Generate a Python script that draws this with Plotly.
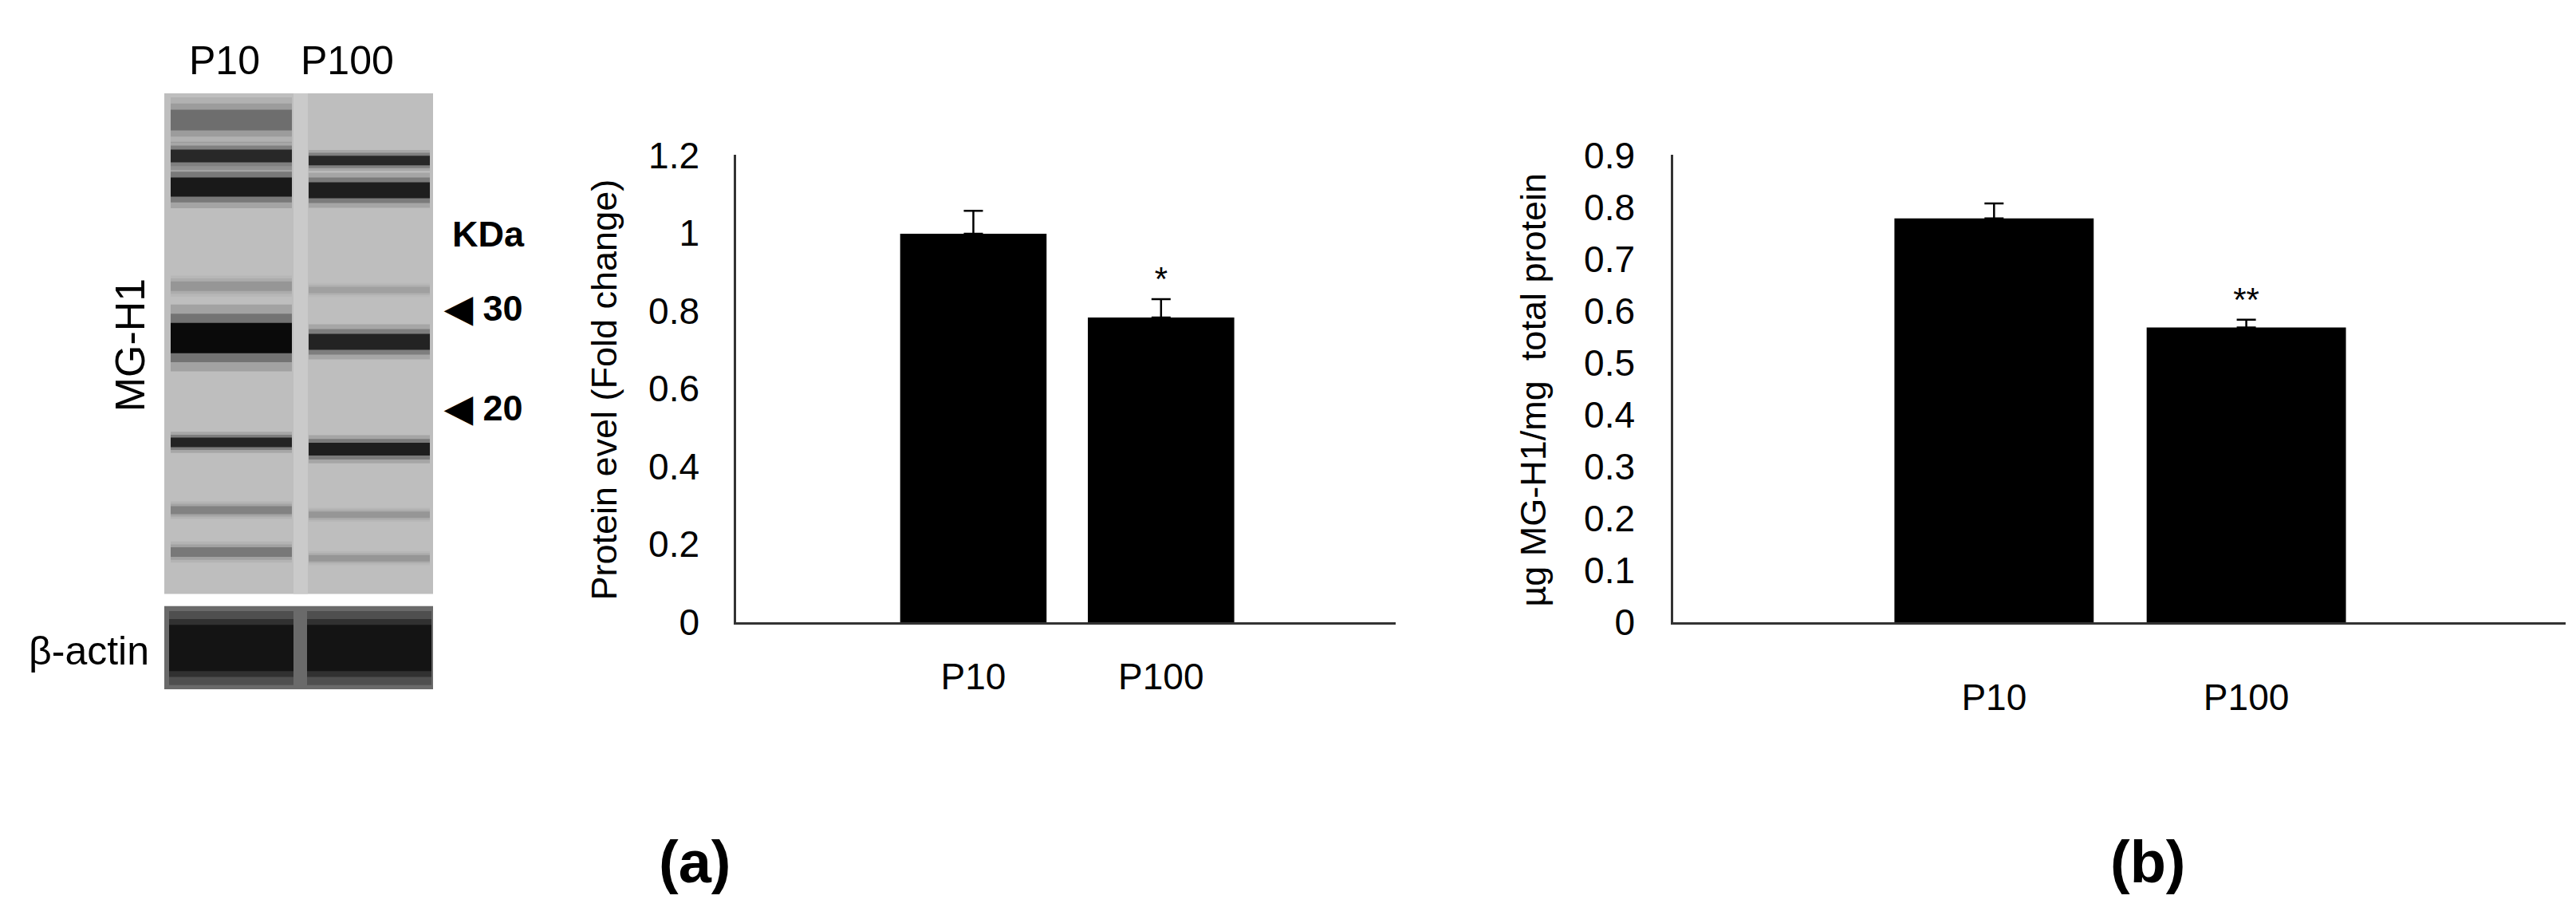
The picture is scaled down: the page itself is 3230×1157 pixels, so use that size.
import plotly.graph_objects as go

W, H = 3230, 1157

# bar chart data
cats = ['P10', 'P100']
fold_change = [0.998, 0.783]
fold_err = [0.059, 0.047]
mgh1_ug = [0.778, 0.568]
mgh1_err = [0.029, 0.015]
sig_a = ['', '*']
sig_b = ['', '**']

# western blot bands (pixel space): lane centre, y, thickness, grey level
band_lane = [282, 282, 282, 282, 282, 282, 282, 282, 455, 455, 455, 455, 455, 455, 455]
band_y = [122, 169, 210, 340, 408, 545, 634, 689, 175, 214, 345, 413, 554, 640, 697]
band_h = [26, 16, 24, 12, 38, 12, 10, 12, 12, 20, 8, 20, 16, 8, 8]
band_grey = [110, 40, 25, 150, 10, 35, 130, 120, 40, 30, 160, 35, 30, 150, 150]
actin_lane = [282, 455]
actin_y = [815, 815]

FONT = 'Liberation Sans'
fig = go.Figure()

# gel backgrounds
fig.add_shape(type='rect', xref='x3', yref='y3', x0=198, x1=535, y0=87, y1=744,
              fillcolor='#bebebe', line_width=0, layer='below')
fig.add_shape(type='rect', xref='x3', yref='y3', x0=360, x1=378, y0=87, y1=744,
              fillcolor='#cacaca', line_width=0, layer='below')
fig.add_shape(type='rect', xref='x3', yref='y3', x0=198, x1=535, y0=760, y1=869,
              fillcolor='#6a6a6a', line_width=0, layer='below')

for lx, by, bh, g in zip(band_lane, band_y, band_h, band_grey):
    for k, op in [(2.2, 0.15), (1.6, 0.3), (1.0, 1.0)]:
        fig.add_trace(go.Scatter(
            x=[lx - 76, lx + 76], y=[by, by], xaxis='x3', yaxis='y3', mode='lines',
            line=dict(color=f'rgb({g},{g},{g})', width=bh * k), opacity=op,
            showlegend=False, hoverinfo='skip'))
for lx, ay in zip(actin_lane, actin_y):
    for k, op in [(1.6, 0.3), (1.25, 0.5), (1.0, 1.0)]:
        fig.add_trace(go.Scatter(
            x=[lx - 78, lx + 78], y=[ay, ay], xaxis='x3', yaxis='y3', mode='lines',
            line=dict(color='rgb(20,20,20)', width=58 * k), opacity=op,
            showlegend=False, hoverinfo='skip'))


def bar_panel(vals, errs, sig, width, xa, ya):
    fig.add_trace(go.Bar(
        x=cats, y=vals, width=width, marker=dict(color='black', line_width=0),
        error_y=dict(type='data', array=errs, arrayminus=[0, 0], symmetric=False,
                     color='black', thickness=2.5, width=12),
        showlegend=False, xaxis=xa, yaxis=ya))
    # significance marks sit on top of the error bars
    fig.add_trace(go.Scatter(
        x=cats, y=[v + e for v, e in zip(vals, errs)], text=sig, mode='text',
        textposition='top center', textfont=dict(family=FONT, size=42, color='black'),
        cliponaxis=False, showlegend=False, hoverinfo='skip', xaxis=xa, yaxis=ya))


bar_panel(fold_change, fold_err, sig_a, 0.78, 'x', 'y')
bar_panel(mgh1_ug, mgh1_err, sig_b, 0.79, 'x2', 'y2')

ydom = [1 - 781 / H, 1 - 168 / H]
axis_common = dict(showgrid=False, zeroline=False, showline=True, linecolor='#333',
                   linewidth=2.5, ticks='', tickfont=dict(family=FONT, size=46, color='black'))

fig.update_layout(
    width=W, height=H, margin=dict(l=0, r=0, t=0, b=0),
    paper_bgcolor='white', plot_bgcolor='rgba(0,0,0,0)',
    font=dict(family=FONT, color='black'),
    xaxis=dict(domain=[915 / W, 1742 / W], range=[-1.264, 2.25], anchor='y',
               ticklabelstandoff=26, **axis_common),
    yaxis=dict(domain=ydom, range=[0, 1.2], dtick=0.2, anchor='x',
               ticklabelstandoff=34, **axis_common),
    xaxis2=dict(domain=[2090 / W, 3209 / W], range=[-1.272, 2.266], anchor='y2',
                ticklabelstandoff=52, **axis_common),
    yaxis2=dict(domain=ydom, range=[0, 0.9], dtick=0.1, anchor='x2',
                ticklabelstandoff=36, **axis_common),
    xaxis3=dict(domain=[0, 1], range=[0, W], visible=False, fixedrange=True),
    yaxis3=dict(domain=[0, 1], range=[H, 0], visible=False, fixedrange=True,
                anchor='x3'),
)

notes = [
    ('Protein evel (Fold change)', 750, 476, 45, -90, False),
    ('µg MG-H1/mg  total protein', 1915, 476, 45, -90, False),
    ('P10', 273, 44, 50, 0, False),
    ('P100', 427, 44, 50, 0, False),
    ('MG-H1', 155, 417, 52, -90, False),
    ('β-actin', 103, 819, 50, 0, False),
    ('KDa', 604, 272, 45, 0, True),
    ('◀ 30', 598, 369, 45, 0, True),
    ('◀ 20', 598, 500, 45, 0, True),
    ('(a)', 863, 1096, 74, 0, True),
    ('(b)', 2685, 1096, 74, 0, True),
]
for txt, px, py, sz, ang, bold in notes:
    fig.add_annotation(
        text=f'<b>{txt}</b>' if bold else txt, xref='paper', yref='paper',
        x=px / W, y=1 - py / H, showarrow=False, textangle=ang,
        font=dict(family=FONT, size=sz, color='black'),
        xanchor='center', yanchor='middle')

fig.write_html('out.html')
